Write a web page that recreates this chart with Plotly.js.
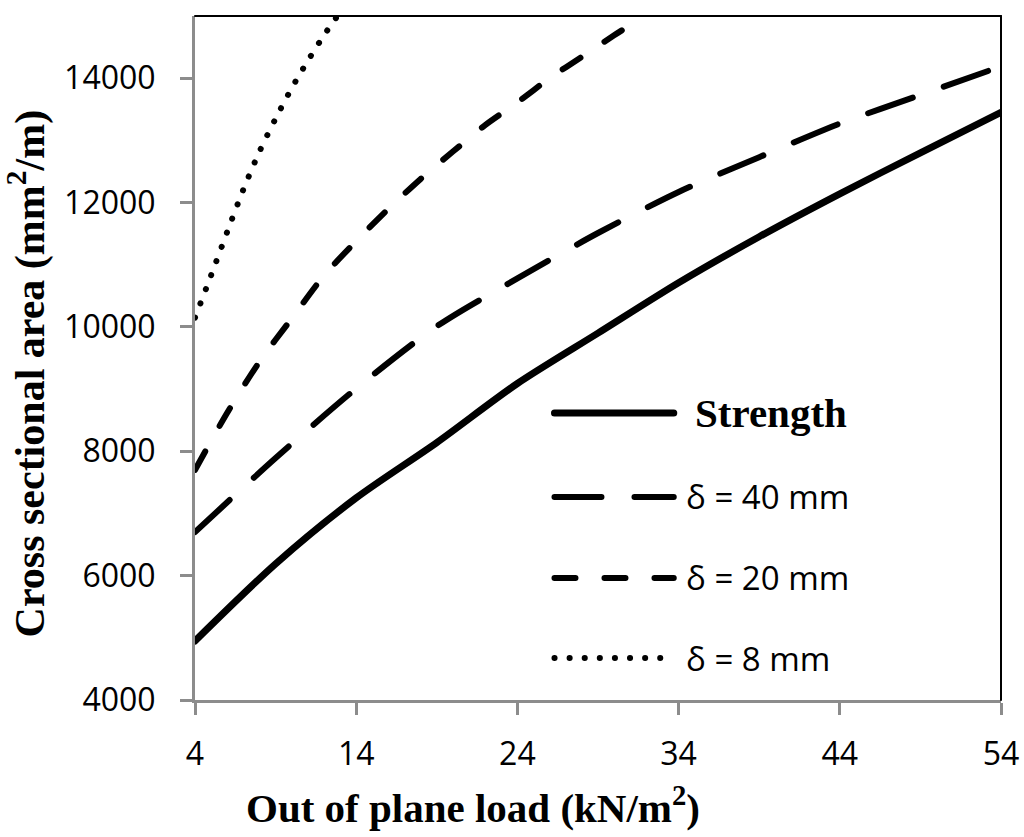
<!DOCTYPE html>
<html>
<head>
<meta charset="utf-8">
<script src="https://cdn.plot.ly/plotly-3.0.1.min.js"></script>
<style>
  body { margin: 0; background: #ffffff; }
  #myChart { width: 1024px; height: 837px; }
  /* round ends on dashes and dots, like the original */
  #myChart .scatterlayer path.js-line,
  #myChart .shapelayer path { stroke-linecap: round; }
</style>
</head>
<body>
<div id="myChart"></div>
<script>
// values
var loadStrength = [4, 9, 14, 19, 24, 29, 34, 39, 44, 49, 54];
var areaStrength = [4950, 6190, 7250, 8140, 9090, 9900, 10710, 11450, 12140, 12800, 13450];

var load40 = [4, 9, 14, 19, 24, 29, 34, 39, 44, 49, 54];
var area40 = [6700, 7890, 9010, 10010, 10780, 11510, 12170, 12730, 13270, 13730, 14190];

var load20 = [4, 6, 8, 10, 12, 14, 16, 18, 20, 22, 24, 26, 28, 30, 32];
var area20 = [7700, 8620, 9440, 10135, 10825, 11380, 11900, 12380, 12820, 13245, 13610, 14000, 14345, 14690, 15020];

var load8 = [4, 5, 6, 7, 8, 9, 10, 11, 12, 13];
var area8 = [10150, 10830, 11530, 12210, 12820, 13350, 13840, 14280, 14690, 15060];

var xTicks = [4, 14, 24, 34, 44, 54];
var yTicks = [4000, 6000, 8000, 10000, 12000, 14000];

var seriesNames = ["Strength", "δ = 40 mm", "δ = 20 mm", "δ = 8 mm"];

var serif = "Liberation Serif, Times New Roman, serif";
var sans = "Open Sans, Lato, sans-serif";

// dash styles shared by the curves and the hand-drawn key (round caps add the line width)
var styles = [
  { width: 7, dash: "solid" },
  { width: 6, dash: "47px,33px" },
  { width: 6, dash: "21px,29px" },
  { width: 6, dash: "0.1px,15px" }
];

var xs = [loadStrength, load40, load20, load8];
var ys = [areaStrength, area40, area20, area8];

var data = [];
for (var i = 0; i < xs.length; i++) {
  data.push({
    x: xs[i],
    y: ys[i],
    name: seriesNames[i],
    type: "scatter",
    mode: "lines",
    line: { color: "#000000", width: styles[i].width, dash: styles[i].dash, shape: "spline", smoothing: 0.8 },
    showlegend: false
  });
}

// key drawn inside the plot area, like the original
var keyY = [0.4196, 0.2968, 0.1784, 0.0614];
var shapes = [
  { type: "line", xref: "paper", yref: "paper", x0: 0, x1: 1, y0: 1, y1: 1, line: { color: "#000000", width: 2 } },
  { type: "line", xref: "paper", yref: "paper", x0: 1, x1: 1, y0: 0, y1: 1, line: { color: "#000000", width: 2 } }
];
var annotations = [];
for (var k = 0; k < seriesNames.length; k++) {
  shapes.push({
    type: "line", xref: "paper", yref: "paper",
    x0: 0.446, x1: 0.594, y0: keyY[k], y1: keyY[k],
    line: { color: "#000000", width: styles[k].width, dash: styles[k].dash }
  });
  annotations.push({
    xref: "paper", yref: "paper",
    x: k === 0 ? 0.618 : 0.607, y: keyY[k],
    xanchor: "left", yanchor: "middle", showarrow: false,
    text: k === 0 ? "<b>" + seriesNames[k] + "</b>" : seriesNames[k],
    font: k === 0 ? { family: serif, size: 41, color: "#000000" } : { family: sans, size: 33, color: "#000000" }
  });
}

// axis titles, placed where the original has them
annotations.push({
  xref: "paper", yref: "paper", x: 0.345, y: -0.153,
  xanchor: "center", yanchor: "middle", showarrow: false,
  text: "<b>Out of plane load (kN/m<sup>2</sup>)</b>",
  font: { family: serif, size: 41, color: "#000000" }
});
annotations.push({
  xref: "paper", yref: "paper", x: -0.208, y: 0.478,
  xanchor: "center", yanchor: "middle", showarrow: false, textangle: -90,
  text: "<b>Cross sectional area (mm<sup>2</sup>/m)</b>",
  font: { family: serif, size: 42, color: "#000000" }
});

var layout = {
  width: 1024,
  height: 837,
  margin: { l: 195, r: 23, t: 16, b: 137 },
  paper_bgcolor: "#ffffff",
  plot_bgcolor: "#ffffff",
  showlegend: false,
  xaxis: {
    range: [4, 54],
    tickvals: xTicks,
    ticktext: xTicks.map(String),
    showgrid: false,
    zeroline: false,
    showline: true,
    linecolor: "#8c8c8c",
    linewidth: 3,
    ticks: "outside",
    ticklen: 12,
    tickwidth: 3,
    tickcolor: "#8c8c8c",
    ticklabelstandoff: 12,
    tickfont: { family: sans, size: 32, color: "#000000" }
  },
  yaxis: {
    range: [4000, 15000],
    tickvals: yTicks,
    ticktext: yTicks.map(String),
    showgrid: false,
    zeroline: false,
    showline: true,
    linecolor: "#8c8c8c",
    linewidth: 3,
    ticks: "outside",
    ticklen: 12,
    tickwidth: 3,
    tickcolor: "#8c8c8c",
    ticklabelstandoff: 18,
    tickfont: { family: sans, size: 32, color: "#000000" }
  },
  shapes: shapes,
  annotations: annotations
};

Plotly.newPlot("myChart", data, layout, { displayModeBar: false, staticPlot: true });
</script>
</body>
</html>
